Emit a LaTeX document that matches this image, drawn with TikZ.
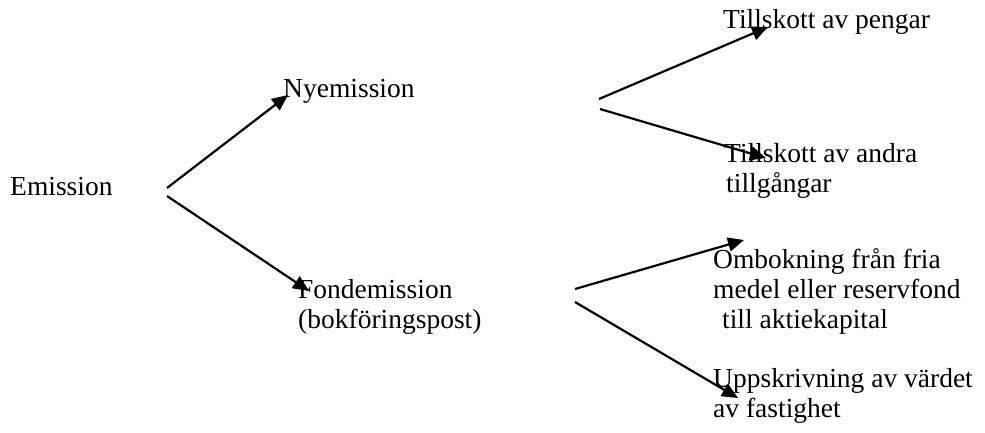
\documentclass[tikz,border=0pt]{standalone}
\usepackage{fontspec}
\setmainfont{Liberation Serif}
\usetikzlibrary{arrows.meta}
\tikzset{
  lbl/.style={anchor=base west, inner sep=0pt, align=left, font=\fontsize{27.5}{30}\selectfont},
  conn/.style={line width=2.2pt, -{Triangle[length=16pt,width=14pt]}},
}
\begin{document}
\begin{tikzpicture}[x=1pt,y=-1pt]
\useasboundingbox (0,0) rectangle (985,432);
% multi-line nodes are placed by the baseline of their last line
\node[lbl] (em) at (10,195) {Emission};
\node[lbl] (ny) at (283,97) {Nyemission};
\node[lbl] (fo) at (298,328) {Fondemission\\(bokföringspost)};
\node[lbl] (tp) at (723,28) {Tillskott av pengar};
\node[lbl] (ta) at (724,192) {Tillskott av andra\\\hspace*{2pt}tillgångar};
\node[lbl] (om) at (713,328) {Ombokning från fria\\medel eller reservfond\\\hspace*{9pt}till aktiekapital};
\node[lbl] (up) at (713,417) {Uppskrivning av värdet\\av fastighet};
\coordinate (em1) at (167,188);
\coordinate (em2) at (167,196);
\coordinate (ny1) at (599,99);
\coordinate (ny2) at (600,109);
\coordinate (fo1) at (575,289);
\coordinate (fo2) at (575,302);
\coordinate (nyT) at (288,95);
\coordinate (foT) at (309,291);
\coordinate (tpT) at (768,27);
\coordinate (taT) at (766,158);
\coordinate (omT) at (744,240);
\coordinate (upT) at (738,398);
\draw[conn] (em1) -- (nyT);
\draw[conn] (em2) -- (foT);
\draw[conn] (ny1) -- (tpT);
\draw[conn] (ny2) -- (taT);
\draw[conn] (fo1) -- (omT);
\draw[conn] (fo2) -- (upT);
\end{tikzpicture}
\end{document}
